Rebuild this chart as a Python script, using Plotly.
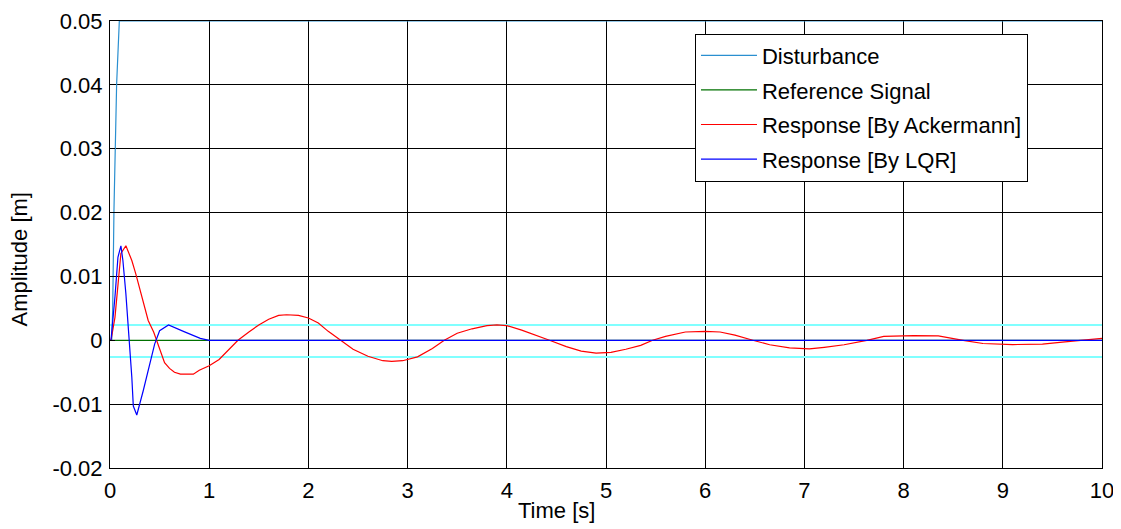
import plotly.graph_objects as go

# ---- data ----
t_dist = [0.0, 0.017, 0.027, 0.04, 0.067, 0.094, 10.0]
y_dist = [0.0, 0.0, 0.0047, 0.0204, 0.0402, 0.05, 0.05]

t_ref = [0.0, 10.0]
y_ref = [0.0, 0.0]

t_ack = [0.0, 0.01, 0.05, 0.085, 0.11, 0.16, 0.22, 0.26, 0.32, 0.385, 0.44, 0.47,
         0.55, 0.60, 0.65, 0.71, 0.84, 0.90, 1.0, 1.1, 1.2, 1.29, 1.4, 1.5, 1.6,
         1.7, 1.78, 1.9, 2.0, 2.1, 2.2, 2.32, 2.45, 2.6, 2.75, 2.84, 2.95, 3.1,
         3.25, 3.37, 3.5, 3.65, 3.8, 3.9, 4.0, 4.15, 4.3, 4.43, 4.6, 4.75, 4.9,
         5.05, 5.2, 5.35, 5.47, 5.6, 5.8, 6.0, 6.15, 6.3, 6.48, 6.65, 6.85, 7.05,
         7.2, 7.4, 7.63, 7.8, 8.1, 8.35, 8.6, 8.8, 9.1, 9.4, 9.6, 9.81, 10.0]
y_ack = [0.0, 0.0, 0.0036, 0.0099, 0.0136, 0.0148, 0.0125, 0.0104, 0.0068, 0.0031,
         0.0013, 0.0, -0.0035, -0.0044, -0.0050, -0.0053, -0.0053, -0.0047, -0.0040,
         -0.0030, -0.0015, 0.0, 0.0013, 0.0024, 0.0033, 0.0039, 0.0040, 0.0039,
         0.0035, 0.0027, 0.0014, 0.0, -0.0014, -0.0025, -0.0032, -0.0033, -0.0032,
         -0.0026, -0.0013, 0.0, 0.0011, 0.0018, 0.0023, 0.0024, 0.0023, 0.0016,
         0.0008, 0.0, -0.0010, -0.0017, -0.0020, -0.0019, -0.0014, -0.0008, 0.0,
         0.0006, 0.0013, 0.0014, 0.0013, 0.0008, 0.0, -0.0007, -0.0012, -0.00135,
         -0.0011, -0.0007, 0.0, 0.0006, 0.00074, 0.0007, 0.0, -0.0005, -0.00067,
         -0.0006, -0.0003, 0.0, 0.0003]

t_lqr = [0.0, 0.01, 0.05, 0.08, 0.11, 0.13, 0.16, 0.195, 0.22, 0.235, 0.27, 0.335,
         0.40, 0.45, 0.50, 0.59, 0.74, 0.91, 1.0, 10.0]
y_lqr = [0.0, 0.0, 0.0068, 0.0130, 0.0148, 0.0125, 0.0073, 0.0, -0.0058, -0.0103,
         -0.0117, -0.0079, -0.0040, -0.0006, 0.0015, 0.0024, 0.0014, 0.0003, 0.0, 0.0]

band_t = [0.0, 10.0]
band_upper = [0.0024, 0.0024]
band_lower = [-0.0026, -0.0026]

x_ticks = [0, 1, 2, 3, 4, 5, 6, 7, 8, 9, 10]
y_ticks = [-0.02, -0.01, 0, 0.01, 0.02, 0.03, 0.04, 0.05]
y_tick_labels = ["-0.02", "-0.01", "0", "0.01", "0.02", "0.03", "0.04", "0.05"]

FONT = "Liberation Sans, Arial, sans-serif"
FS = 22

fig = go.Figure()

# tolerance band lines (not in legend)
for yy in (band_upper, band_lower):
    fig.add_trace(go.Scatter(x=band_t, y=yy, mode="lines",
                             line=dict(color="#80ffff", width=2),
                             showlegend=False, hoverinfo="skip"))

fig.add_trace(go.Scatter(x=t_dist, y=y_dist, mode="lines", name="Disturbance",
                         line=dict(color="#2a8fd0", width=1.2), legendgroup="a"))
fig.add_trace(go.Scatter(x=t_ref, y=y_ref, mode="lines", name="Reference Signal",
                         line=dict(color="#007000", width=1.2), legendgroup="b"))
fig.add_trace(go.Scatter(x=t_ack, y=y_ack, mode="lines", name="Response [By Ackermann]",
                         line=dict(color="#ff0000", width=1.2), legendgroup="c"))
fig.add_trace(go.Scatter(x=t_lqr, y=y_lqr, mode="lines", name="Response [By LQR]",
                         line=dict(color="#0000ff", width=1.2), legendgroup="d"))

axis_common = dict(showline=True, linecolor="black", linewidth=1, mirror=True,
                   showgrid=True, gridcolor="black", gridwidth=1, zeroline=False,
                   ticks="inside", ticklen=5, tickcolor="black", automargin=False,
                   ticklabeloverflow="allow",
                   tickfont=dict(family=FONT, size=FS, color="black"))

fig.update_xaxes(range=[0, 10], tickvals=x_ticks, ticktext=[str(v) for v in x_ticks],
                 ticklabelstandoff=3, **axis_common)
fig.update_yaxes(range=[-0.02, 0.05], tickvals=y_ticks, ticktext=y_tick_labels,
                 ticklabelstandoff=2, **axis_common)

# axis titles placed as in the reference (slightly off-centre)
fig.add_annotation(text="Time [s]", xref="paper", yref="paper",
                   x=0.4496, y=-0.094, xanchor="center", yanchor="middle",
                   showarrow=False, font=dict(family=FONT, size=FS, color="black"))
fig.add_annotation(text="Amplitude [m]", xref="paper", yref="paper",
                   x=-0.091, y=0.468, xanchor="center", yanchor="middle", textangle=-90,
                   showarrow=False, font=dict(family=FONT, size=FS, color="black"))

# page body has an 8 px margin: the figure is sized so that the plot area
# lands on the reference's pixels (x 110..1102, y 21..468 in the window)
fig.update_layout(
    width=1113, height=521,
    margin=dict(l=102, r=19, t=13, b=61),
    plot_bgcolor="white", paper_bgcolor="white",
    font=dict(family=FONT, size=FS, color="black"),
    legend=dict(x=0.5897, y=0.972, xanchor="left", yanchor="top",
                bgcolor="white", bordercolor="black", borderwidth=1,
                font=dict(family=FONT, size=FS, color="black"),
                traceorder="grouped", tracegroupgap=3, itemwidth=56,
                entrywidth=385, entrywidthmode="pixels"),
    showlegend=True,
)

fig.write_html("out.html")
